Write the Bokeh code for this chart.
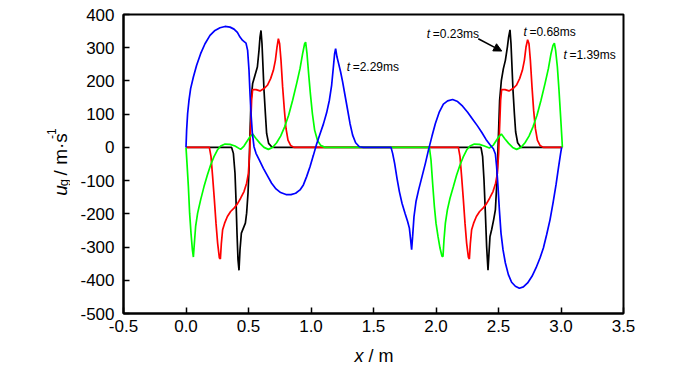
import math
from bokeh.plotting import figure
from bokeh.layouts import row, column
from bokeh.models import Label, Arrow, NormalHead, FixedTicker, Range1d, NumeralTickFormatter
from bokeh.embed import file_html
from bokeh.resources import INLINE

# ---------------- data ----------------
x_ticks = [-0.5, 0.0, 0.5, 1.0, 1.5, 2.0, 2.5, 3.0, 3.5]
y_ticks = [-500, -400, -300, -200, -100, 0, 100, 200, 300, 400]

# t = 0.23 ms (black)
x_black = [0.0, 0.365, 0.379, 0.392, 0.400, 0.408, 0.416, 0.424, 0.432, 0.443, 0.459, 0.475, 0.485,
           0.496, 0.504, 0.512, 0.520, 0.533, 0.552, 0.571, 0.584, 0.592, 0.600, 0.608, 0.616, 0.624,
           0.635, 0.645, 0.661, 0.685, 0.704,
           2.360, 2.373, 2.384, 2.395, 2.405, 2.416, 2.424, 2.432, 2.445, 2.461, 2.475, 2.485, 2.493,
           2.501, 2.509, 2.523, 2.539, 2.555, 2.571, 2.581, 2.592, 2.600, 2.608, 2.616, 2.627, 2.637,
           2.653, 2.680, 3.010]
u_black = [0, 0, -18, -78, -158, -258, -338, -370, -308, -258, -243, -228, -198,
           -138, -68, 42, 142, 192, 217, 242, 292, 332, 352, 312, 242, 172,
           102, 42, 12, 2, 0,
           0, -28, -98, -198, -298, -370, -318, -268, -248, -218, -188, -118, -38,
           52, 142, 202, 237, 262, 302, 332, 354, 312, 242, 172, 102, 47,
           14, 0, 0]

# t = 0.68 ms (red)
x_red = [0.0, 0.187, 0.200, 0.213, 0.227, 0.240, 0.253, 0.267, 0.275, 0.283, 0.293, 0.309, 0.331,
         0.357, 0.384, 0.411, 0.437, 0.464, 0.485, 0.499, 0.509, 0.517, 0.525, 0.533, 0.560, 0.592,
         0.624, 0.651, 0.677, 0.699, 0.715, 0.728, 0.739, 0.749, 0.760, 0.773, 0.787, 0.800, 0.816,
         0.837, 0.864,
         2.179, 2.192, 2.205, 2.219, 2.232, 2.245, 2.259, 2.267, 2.275, 2.285, 2.301, 2.323, 2.349,
         2.376, 2.403, 2.429, 2.456, 2.477, 2.491, 2.501, 2.509, 2.517, 2.525, 2.552, 2.584, 2.616,
         2.643, 2.669, 2.691, 2.707, 2.720, 2.733, 2.744, 2.755, 2.768, 2.781, 2.795, 2.811, 2.832,
         2.859, 3.010]
u_red = [0, 0, -28, -88, -158, -228, -288, -333, -336, -288, -248, -228, -208,
         -193, -183, -170, -153, -133, -108, -78, -18, 62, 142, 174, 174, 170,
         177, 187, 207, 232, 262, 302, 327, 312, 262, 182, 112, 57, 22,
         6, 0,
         0, -28, -88, -158, -228, -288, -330, -336, -288, -248, -228, -208, -193,
         -183, -170, -153, -133, -108, -78, -18, 62, 142, 174, 174, 170, 177,
         187, 207, 232, 262, 302, 324, 312, 262, 182, 112, 57, 22, 6,
         0, 0]

# t = 1.39 ms (green)
x_green = [0.0, 0.008, 0.019, 0.029, 0.040, 0.051, 0.059, 0.067, 0.077, 0.093, 0.117, 0.144, 0.171,
           0.197, 0.224, 0.251, 0.277, 0.312, 0.352, 0.392, 0.437, 0.464, 0.491, 0.512, 0.533, 0.560,
           0.592, 0.624, 0.659, 0.693, 0.725, 0.757, 0.789, 0.821, 0.853, 0.885, 0.912, 0.933, 0.949,
           0.957, 0.968, 0.981, 0.995, 1.011, 1.029, 1.051, 1.077, 1.112,
           1.947, 1.960, 1.973, 1.987, 2.000, 2.016, 2.032, 2.048, 2.056, 2.064, 2.075, 2.091, 2.112,
           2.139, 2.165, 2.192, 2.219, 2.245, 2.272, 2.307, 2.347, 2.387, 2.427, 2.459, 2.485, 2.507,
           2.523, 2.549, 2.581, 2.613, 2.645, 2.680, 2.712, 2.744, 2.776, 2.808, 2.840, 2.872, 2.899,
           2.920, 2.936, 2.947, 2.957, 2.971, 2.984, 2.997, 3.008, 3.011]
u_green = [0, -48, -118, -198, -258, -308, -330, -288, -238, -198, -158, -118, -83,
           -53, -28, -8, 4, 10, 9, 4, -6, 4, 20, 32, 40, 27,
           12, 0, -6, 0, 14, 34, 62, 97, 142, 192, 237, 282, 312,
           317, 282, 222, 162, 102, 52, 22, 6, 0,
           0, -38, -108, -178, -228, -268, -303, -328, -328, -278, -228, -188, -153,
           -118, -83, -53, -28, -8, 4, 10, 9, 4, -2, 7, 22, 34,
           40, 27, 12, 0, -6, 0, 14, 34, 62, 97, 142, 192, 237,
           282, 307, 314, 292, 242, 172, 92, 22, 0]

# t = 2.29 ms (blue)
x_blue = [0.0, 0.005, 0.013, 0.024, 0.037, 0.059, 0.085, 0.117, 0.152, 0.192, 0.232, 0.272, 0.312,
          0.352, 0.384, 0.411, 0.432, 0.453, 0.480, 0.493, 0.504, 0.512, 0.520, 0.531, 0.544, 0.560,
          0.587, 0.619, 0.651, 0.685, 0.720, 0.757, 0.800, 0.840, 0.877, 0.912, 0.939, 0.965, 0.992,
          1.019, 1.045, 1.072, 1.099, 1.125, 1.147, 1.165, 1.179, 1.189, 1.197, 1.208, 1.221, 1.237,
          1.253, 1.272, 1.291, 1.312, 1.333, 1.357, 1.387, 1.419,
          1.640, 1.653, 1.669, 1.688, 1.707, 1.728, 1.752, 1.773, 1.787, 1.797, 1.805, 1.813, 1.824,
          1.840, 1.861, 1.888, 1.915, 1.941, 1.968, 1.995, 2.027, 2.059, 2.093, 2.133, 2.173, 2.213,
          2.253, 2.293, 2.333, 2.368, 2.400, 2.432, 2.459, 2.475, 2.485, 2.496, 2.507, 2.520, 2.536,
          2.555, 2.579, 2.605, 2.635, 2.667, 2.699, 2.733, 2.768, 2.800, 2.832, 2.859, 2.885, 2.912,
          2.936, 2.960, 2.981, 2.997, 3.005]
u_blue = [0, 52, 102, 142, 177, 212, 247, 282, 312, 337, 352, 360, 364,
          362, 356, 346, 332, 322, 314, 292, 232, 162, 102, 42, 2, -18,
          -38, -63, -85, -108, -125, -136, -142, -142, -138, -128, -113, -88, -58,
          -24, 10, 40, 70, 104, 142, 187, 242, 282, 297, 272, 252, 227,
          197, 157, 117, 72, 37, 14, 2, 0,
          0, -18, -48, -93, -133, -168, -198, -223, -243, -278, -308, -268, -208,
          -163, -128, -88, -48, -6, 34, 72, 107, 130, 140, 144, 138, 124,
          106, 85, 64, 44, 24, 8, -4, -20, -58, -118, -188, -258, -308,
          -348, -383, -406, -418, -424, -420, -408, -388, -363, -333, -303, -263, -218,
          -168, -113, -58, -18, 0]

series = [(x_black, u_black, "#000000"),
          (x_red, u_red, "#FF0000"),
          (x_green, u_green, "#00FF00"),
          (x_blue, u_blue, "#0000FF")]

ann_t = ["0.23ms", "0.68ms", "1.39ms", "2.29ms"]
ann_x = [1.926, 2.699, 3.019, 1.285]
ann_y = [340, 346, 279, 242]

arrow_xy = (2.338, 327, 2.526, 290)

FONT = "Liberation Sans"

# ---------------- main plot ----------------
p_main = figure(width=630, height=340,
                x_range=Range1d(-0.5, 3.5), y_range=Range1d(-500, 400),
                output_backend="svg", toolbar_location=None,
                min_border_left=53, min_border_right=77,
                min_border_top=14, min_border_bottom=27)
p_main.background_fill_color = "white"
p_main.border_fill_color = "white"
p_main.grid.visible = False
p_main.outline_line_color = "black"
p_main.outline_line_width = 2
p_main.outline_line_alpha = 1.0

for ax in (p_main.xaxis[0], p_main.yaxis[0]):
    ax.axis_line_width = 2
    ax.axis_line_color = "black"
    ax.major_tick_in = 6
    ax.major_tick_out = 0
    ax.major_tick_line_width = 1.5
    ax.major_tick_line_color = "black"
    ax.minor_tick_line_color = None
    ax.major_label_text_font = FONT
    ax.major_label_text_font_size = "17px"
    ax.major_label_text_color = "black"

p_main.xaxis.ticker = FixedTicker(ticks=x_ticks)
p_main.yaxis.ticker = FixedTicker(ticks=y_ticks)
p_main.xaxis.formatter = NumeralTickFormatter(format="0.0")
p_main.yaxis.formatter = NumeralTickFormatter(format="0")
p_main.xaxis.major_label_standoff = 6
p_main.yaxis.major_label_standoff = 9

for xs, us, col in series:
    p_main.line(xs, us, line_color=col, line_width=1.7)

for t, ax_, ay_ in zip(ann_t, ann_x, ann_y):
    p_main.add_layout(Label(x=ax_, y=ay_, text="t", text_font=FONT, text_font_style="italic",
                            text_color="black", text_font_size="12px",
                            text_baseline="alphabetic", text_align="left"))
    p_main.add_layout(Label(x=ax_, y=ay_, x_offset=6, text="=" + t, text_font=FONT,
                            text_color="black", text_font_size="12px",
                            text_baseline="alphabetic", text_align="left"))

p_main.add_layout(Arrow(x_start=arrow_xy[0], y_start=arrow_xy[1], x_end=arrow_xy[2], y_end=arrow_xy[3],
                        line_color="black", line_width=1.5,
                        end=NormalHead(size=8, fill_color="black", line_color="black")))


def label_panel(w, h):
    f = figure(width=w, height=h, x_range=Range1d(0, w), y_range=Range1d(0, h),
               output_backend="svg", toolbar_location=None, title=None,
               x_axis_location=None, y_axis_location=None, min_border=0)
    f.grid.visible = False
    f.outline_line_color = None
    f.background_fill_color = "white"
    f.border_fill_color = "white"
    return f


# ---------------- y-axis title panel: "u_g / m·s^-1" ----------------
p_ylab = label_panel(70, 340)
yl_x, yl_y = 60, 134
ang = math.pi / 2
y_parts = [("u", "italic", "19px", 0, 0),
           ("g", "normal", "13px", 3, 10.6),
           ("/ m\u00b7s", "normal", "19px", 0, 23.0),
           ("-1", "normal", "12px", -9, 64.5)]
for txt, sty, size, dx, dy in y_parts:
    p_ylab.add_layout(Label(x=yl_x + dx, y=yl_y + dy, text=txt, angle=ang, text_font=FONT,
                            text_font_style=sty, text_font_size=size, text_color="black",
                            text_baseline="alphabetic", text_align="left"))

# ---------------- x-axis title panel: "x / m" ----------------
p_xlab = label_panel(700, 25)
xl_x, xl_y = 354, 10
p_xlab.add_layout(Label(x=xl_x, y=xl_y, text="x", text_font=FONT, text_font_style="italic",
                        text_color="black", text_font_size="18px",
                        text_baseline="alphabetic", text_align="left"))
p_xlab.add_layout(Label(x=xl_x + 14, y=xl_y, text="/ m", text_font=FONT,
                        text_color="black", text_font_size="18px",
                        text_baseline="alphabetic", text_align="left"))

p = column(row(p_ylab, p_main, spacing=0), p_xlab, spacing=0)

open("out.html", "w").write(file_html(p, INLINE))
